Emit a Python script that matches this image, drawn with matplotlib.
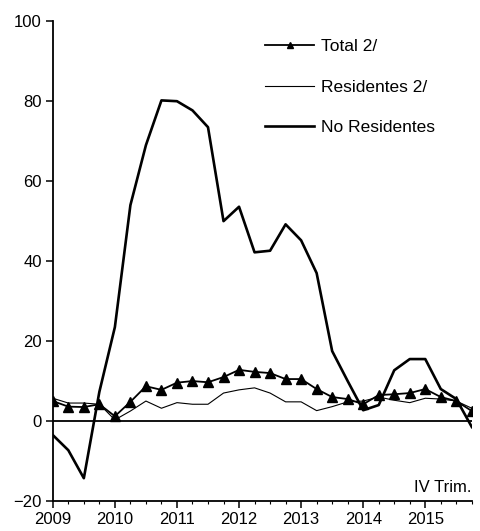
import numpy as np
import matplotlib.pyplot as plt

plt.rcParams['font.family'] = ['Liberation Sans', 'DejaVu Sans']

# quarterly data, 2009 Q1 .. 2015 Q4
years = [2009, 2010, 2011, 2012, 2013, 2014, 2015]
total = [5.0, 3.6, 3.5, 4.2, 1.2, 4.8, 8.7, 7.8, 9.6, 10.0, 9.7, 11.0,
         12.8, 12.3, 12.0, 10.5, 10.5, 8.0, 6.0, 5.5, 4.2, 6.5, 6.7, 7.0,
         8.0, 6.0, 5.0, 2.5]
residentes = [5.7, 4.5, 4.5, 4.2, 0.3, 2.5, 5.0, 3.2, 4.6, 4.2, 4.2, 7.0,
              7.8, 8.3, 7.0, 4.8, 4.8, 2.6, 3.6, 4.8, 5.0, 6.0, 5.2, 4.6,
              5.7, 5.5, 5.0, 3.2]
no_residentes = [-3.5, -7.3, -14.3, 7.3, 23.5, 54.0, 69.0, 80.2, 80.0, 77.7,
                 73.5, 50.0, 53.6, 42.2, 42.6, 49.2, 45.2, 37.0, 17.5, 10.0,
                 2.7, 4.0, 12.7, 15.5, 15.5, 8.0, 5.5, -1.5]

x = 2009 + np.arange(len(total)) / 4.0

fig = plt.figure(figsize=(4.8, 5.31), dpi=100)
ax = fig.add_axes([0.110, 0.0565, 0.873, 0.9035])

ax.axhline(0, color='black', lw=1.3, zorder=1)
ax.plot(x, total, color='black', lw=1.3, marker='^', markersize=6.5,
        label='Total 2/')
ax.plot(x, residentes, color='black', lw=0.8, label='Residentes 2/')
ax.plot(x, no_residentes, color='black', lw=1.9, label='No Residentes')

ax.set_xlim(2009, 2015.75)
ax.set_ylim(-20, 100)
ax.set_yticks(range(-20, 101, 20))
ax.set_xticks(years)
ax.set_xticks(list(x), minor=True)
ax.set_xticklabels([str(y) for y in years])

for s in ['top', 'right']:
    ax.spines[s].set_visible(False)
ax.spines['left'].set_linewidth(1.3)
ax.spines['bottom'].set_linewidth(1.3)
ax.tick_params(axis='both', labelsize=12, length=5, width=1.1,
               direction='out')
ax.tick_params(axis='x', which='minor', length=2, width=0.8)
ax.tick_params(axis='x', pad=3)
ax.tick_params(axis='y', pad=3)

ax.text(1.0, 0.012, 'IV Trim.', transform=ax.transAxes, ha='right',
        va='bottom', fontsize=12)

ax.legend(loc='upper left', bbox_to_anchor=(0.47, 0.995), frameon=False,
          fontsize=12.5, handlelength=2.8, labelspacing=1.45,
          handletextpad=0.4, markerscale=0.7)

fig.savefig('out.png', dpi=100)
